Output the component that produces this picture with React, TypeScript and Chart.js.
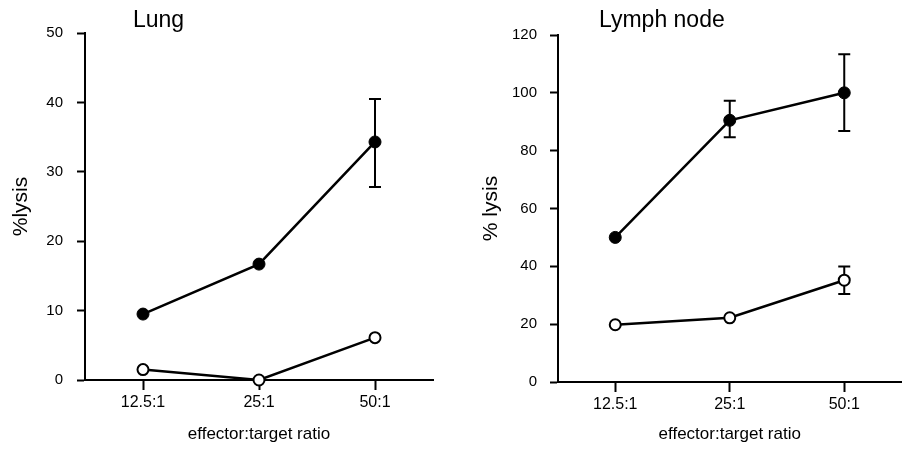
import React, { useEffect, useRef } from 'react';
import { Chart, registerables } from 'chart.js';

Chart.register(...registerables);

// ---- data ----
const categories = ['12.5:1', '25:1', '50:1'];

const lungActivated = [9.5, 16.7, 34.3];
const lungActivatedLow = [null, null, 27.8];
const lungActivatedHigh = [null, null, 40.5];
const lungControl = [1.5, 0, 6.1];

const lymphActivated = [50, 90.5, 100];
const lymphActivatedLow = [null, 84.6, 86.8];
const lymphActivatedHigh = [null, 97.3, 113.3];
const lymphControl = [19.8, 22.2, 35.2];
const lymphControlLow = [null, null, 30.4];
const lymphControlHigh = [null, null, 39.9];

const lungYMax = 50;
const lungYStep = 10;
const lymphYMax = 120;
const lymphYStep = 20;

const FONT = '"Liberation Sans", Arial, Helvetica, sans-serif';

const errorBarPlugin = {
  id: 'errorBars',
  beforeDatasetsDraw(chart: any) {
    const ctx = chart.ctx;
    const yScale = chart.scales.y;
    chart.data.datasets.forEach((ds: any, i: number) => {
      if (!ds.errLow || !ds.errHigh) return;
      const meta = chart.getDatasetMeta(i);
      meta.data.forEach((pt: any, j: number) => {
        const lo = ds.errLow[j];
        const hi = ds.errHigh[j];
        if (lo == null || hi == null) return;
        const x = pt.x;
        const yLo = yScale.getPixelForValue(lo);
        const yHi = yScale.getPixelForValue(hi);
        const cap = 6;
        ctx.save();
        ctx.strokeStyle = '#000';
        ctx.lineWidth = 2;
        ctx.beginPath();
        ctx.moveTo(x, yLo);
        ctx.lineTo(x, yHi);
        ctx.moveTo(x - cap, yLo);
        ctx.lineTo(x + cap, yLo);
        ctx.moveTo(x - cap, yHi);
        ctx.lineTo(x + cap, yHi);
        ctx.stroke();
        ctx.restore();
      });
    });
  },
};

const panelTitlePlugin = {
  id: 'panelTitle',
  afterDraw(chart: any, _args: any, opts: any) {
    if (!opts || !opts.text) return;
    const ctx = chart.ctx;
    ctx.save();
    ctx.fillStyle = '#000';
    ctx.font = `${opts.size}px ${FONT}`;
    ctx.textAlign = 'left';
    ctx.textBaseline = 'alphabetic';
    ctx.fillText(opts.text, opts.x, opts.y);
    ctx.restore();
  },
};

type PanelProps = {
  left: number;
  width: number;
  height: number;
  title: string;
  titleX: number;
  yTitle: string;
  yMax: number;
  yStep: number;
  activated: number[];
  activatedLow: (number | null)[];
  activatedHigh: (number | null)[];
  control: number[];
  controlLow: (number | null)[];
  controlHigh: (number | null)[];
  areaLeft: number;
  areaRight: number;
  areaTop: number;
  areaBottom: number;
  yTickPad: number;
};

function Panel(p: PanelProps) {
  const ref = useRef<HTMLCanvasElement | null>(null);
  useEffect(() => {
    if (!ref.current) return;
    const chart = new Chart(ref.current, {
      type: 'line',
      data: {
        labels: categories,
        datasets: [
          {
            data: p.activated,
            borderColor: '#000',
            borderWidth: 2.5,
            backgroundColor: '#000',
            pointBackgroundColor: '#000',
            pointBorderColor: '#000',
            pointBorderWidth: 1,
            pointRadius: 6,
            pointHoverRadius: 6,
            clip: false,
            errLow: p.activatedLow,
            errHigh: p.activatedHigh,
          } as any,
          {
            data: p.control,
            borderColor: '#000',
            borderWidth: 2.5,
            backgroundColor: '#fff',
            pointBackgroundColor: '#fff',
            pointBorderColor: '#000',
            pointBorderWidth: 2,
            pointRadius: 5.5,
            pointHoverRadius: 5.5,
            clip: false,
            errLow: p.controlLow,
            errHigh: p.controlHigh,
          } as any,
        ],
      },
      options: {
        responsive: false,
        animation: false,
        events: [],
        layout: {
          padding: { top: p.areaTop, right: p.width - p.areaRight, left: 0, bottom: 0 },
        },
        plugins: {
          legend: { display: false },
          tooltip: { enabled: false },
          title: { display: false },
          panelTitle: { text: p.title, x: p.titleX, y: 27, size: 23 },
        } as any,
        scales: {
          x: {
            type: 'category',
            offset: true,
            afterFit: (s: any) => {
              s.height = p.height - p.areaBottom;
            },
            grid: {
              drawOnChartArea: false,
              drawTicks: true,
              tickLength: 10,
              tickWidth: 2,
              color: '#000',
              offset: false,
            },
            border: { display: true, color: '#000', width: 2 },
            ticks: {
              color: '#000',
              font: { family: FONT, size: 16 },
              padding: 3,
              maxRotation: 0,
            },
            title: {
              display: true,
              text: 'effector:target ratio',
              color: '#000',
              font: { family: FONT, size: 17 },
              padding: { top: 0, bottom: 6 },
            },
          },
          y: {
            type: 'linear',
            min: 0,
            max: p.yMax,
            afterFit: (s: any) => {
              s.width = p.areaLeft;
            },
            grid: {
              drawOnChartArea: false,
              drawTicks: true,
              tickLength: 8,
              tickWidth: 2,
              color: '#000',
            },
            border: { display: true, color: '#000', width: 2 },
            ticks: {
              stepSize: p.yStep,
              color: '#000',
              font: { family: FONT, size: 15 },
              padding: p.yTickPad,
            },
            title: {
              display: true,
              text: p.yTitle,
              color: '#000',
              font: { family: FONT, size: 21 },
              padding: { top: 9, bottom: 0 },
            },
          },
        },
      } as any,
      plugins: [errorBarPlugin, panelTitlePlugin],
    });
    return () => chart.destroy();
  }, []);
  return (
    <canvas
      ref={ref}
      width={p.width}
      height={p.height}
      style={{ position: 'absolute', left: p.left, top: 0, width: p.width, height: p.height }}
    />
  );
}

export default function App() {
  return (
    <div
      style={{
        position: 'fixed',
        left: 0,
        top: 0,
        width: 909,
        height: 451,
        background: '#fff',
        overflow: 'hidden',
      }}
    >
      <Panel
        left={0}
        width={454}
        height={451}
        title="Lung"
        titleX={133}
        yTitle="%lysis"
        yMax={lungYMax}
        yStep={lungYStep}
        activated={lungActivated}
        activatedLow={lungActivatedLow}
        activatedHigh={lungActivatedHigh}
        control={lungControl}
        controlLow={[null, null, null]}
        controlHigh={[null, null, null]}
        areaLeft={85}
        areaRight={433}
        areaTop={33}
        areaBottom={380}
        yTickPad={14}
      />
      <Panel
        left={470}
        width={439}
        height={451}
        title="Lymph node"
        titleX={129}
        yTitle="% lysis"
        yMax={lymphYMax}
        yStep={lymphYStep}
        activated={lymphActivated}
        activatedLow={lymphActivatedLow}
        activatedHigh={lymphActivatedHigh}
        control={lymphControl}
        controlLow={lymphControlLow}
        controlHigh={lymphControlHigh}
        areaLeft={88}
        areaRight={436}
        areaTop={35}
        areaBottom={382}
        yTickPad={13}
      />
    </div>
  );
}
